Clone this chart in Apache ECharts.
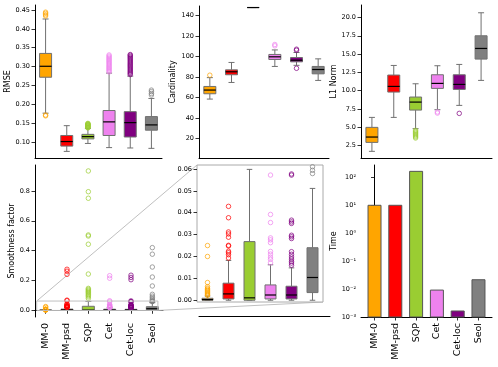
<!DOCTYPE html>
<html>
<head>
<meta charset="utf-8">
<script src="https://cdn.jsdelivr.net/npm/echarts@6/dist/echarts.min.js"></script>
<style>
html, body { margin: 0; padding: 0; background: #fff; }
#ChartDIV { width: 498px; height: 367px; }
</style>
</head>
<body>
<div id="ChartDIV"></div>
<script>
// ---- data ----
var methods = ['MM-0', 'MM-psd', 'SQP', 'Cet', 'Cet-loc', 'Seol'];
var colors = ['#FFA500', '#FF0000', '#9ACD32', '#EE82EE', '#800080', '#808080'];

// box stats: [lower whisker, Q1, median, Q3, upper whisker]
var rmseBox = [
    [0.177, 0.272, 0.301, 0.335, 0.426],
    [0.076, 0.090, 0.102, 0.118, 0.144],
    [0.097, 0.109, 0.115, 0.121, 0.137],
    [0.086, 0.118, 0.154, 0.184, 0.283],
    [0.085, 0.114, 0.152, 0.181, 0.275],
    [0.084, 0.132, 0.146, 0.168, 0.216]
];
var rmseOut = [
    [0.170, 0.172, 0.434, 0.437, 0.441, 0.444],
    [],
    [0.138, 0.139, 0.140, 0.141, 0.142, 0.143, 0.144, 0.145, 0.146, 0.147, 0.148, 0.149, 0.150],
    [0.286, 0.289, 0.292, 0.295, 0.298, 0.301, 0.304, 0.307, 0.310, 0.313, 0.316, 0.319, 0.322, 0.325, 0.328, 0.331],
    [0.279, 0.282, 0.285, 0.288, 0.291, 0.294, 0.297, 0.300, 0.303, 0.306, 0.309, 0.312, 0.315, 0.318, 0.321, 0.324, 0.327, 0.330, 0.332],
    [0.225, 0.229, 0.234, 0.238]
];

var cardBox = [
    [58.6, 63.8, 67.4, 70.9, 79.5],
    [74.8, 82.3, 85.2, 87.1, 94.3],
    [147.8, 147.8, 147.8, 147.8, 147.8],
    [90.4, 97.2, 99.8, 102.1, 106.5],
    [91.5, 94.9, 96.5, 99.1, 104.0],
    [76.8, 83.2, 87.4, 90.4, 97.8]
];
var cardOut = [
    [81.9],
    [],
    [],
    [110.5, 111.8],
    [106.2, 107.2, 88.6],
    []
];

var l1Box = [
    [1.73, 2.95, 3.68, 5.00, 6.36],
    [6.36, 9.82, 10.59, 12.14, 13.45],
    [4.82, 7.36, 8.45, 9.14, 10.95],
    [7.41, 10.32, 11.00, 12.18, 13.41],
    [8.00, 10.18, 10.86, 12.18, 13.59],
    [11.41, 14.32, 15.77, 17.50, 20.64]
];
var l1Out = [
    [],
    [],
    [4.6, 4.45, 4.3, 4.15, 4.0, 3.85, 3.7, 3.55],
    [7.1, 6.95],
    [6.91],
    []
];

var smoothBox = [
    [0, 0, 0.0003, 0.0009, 0.0019],
    [0, 0.0006, 0.0029, 0.0078, 0.0182],
    [0, 0, 0.0011, 0.0268, 0.0598],
    [0, 0.0006, 0.0024, 0.0070, 0.0162],
    [0, 0.0006, 0.0024, 0.0064, 0.0148],
    [0, 0.0035, 0.0104, 0.0240, 0.0511]
];
var smoothOut = [
    [0.025, 0.020, 0.0081, 0.0062, 0.0055, 0.0050, 0.0045, 0.0040, 0.0035, 0.0030, 0.0026, 0.0022],
    [0.275, 0.262, 0.241, 0.068, 0.064, 0.0429, 0.0377, 0.0312, 0.0303, 0.0288, 0.0251, 0.0248, 0.0224, 0.0217, 0.0208, 0.0193],
    [0.934, 0.795, 0.751, 0.505, 0.498, 0.443, 0.243, 0.147, 0.140, 0.133, 0.126, 0.120, 0.113, 0.105, 0.098, 0.090, 0.080],
    [0.232, 0.215, 0.064, 0.0572, 0.0392, 0.0355, 0.0285, 0.0276, 0.0263, 0.0223, 0.0211, 0.0197, 0.0187, 0.0171],
    [0.235, 0.220, 0.205, 0.063, 0.0577, 0.0572, 0.0366, 0.0358, 0.0351, 0.0297, 0.0290, 0.0282, 0.0222, 0.0210, 0.0198, 0.0188, 0.0178, 0.0170, 0.0160],
    [0.420, 0.376, 0.290, 0.223, 0.163, 0.107, 0.095, 0.085, 0.075, 0.068, 0.061, 0.0594, 0.0579]
];

var timeValues = [10.0, 10.0, 164, 0.0092, 0.00164, 0.0216];

var rmseTicks = [0.10, 0.15, 0.20, 0.25, 0.30, 0.35, 0.40, 0.45];
var cardTicks = [20, 40, 60, 80, 100, 120, 140];
var l1Ticks = [2.5, 5.0, 7.5, 10.0, 12.5, 15.0, 17.5, 20.0];
var smoothTicks = [0.0, 0.2, 0.4, 0.6, 0.8];
var insetTicks = [0.00, 0.01, 0.02, 0.03, 0.04, 0.05, 0.06];
var timeTicks = [0.001, 0.01, 0.1, 1, 10, 100];

// ---- layout ----
var FONT = 'DejaVu Sans';
var grids = [
    { left: 35, top: 5, width: 127, height: 153 },    // RMSE
    { left: 199, top: 6, width: 130, height: 152 },   // Cardinality
    { left: 361, top: 5, width: 131, height: 153 },   // L1 Norm
    { left: 35, top: 165, width: 128, height: 152 },  // Smoothness
    { left: 197, top: 165, width: 126, height: 137 }, // inset
    { left: 361, top: 165, width: 131, height: 152 }, // Time
    { left: 199, top: 165, width: 131, height: 151 }  // empty axes (bottom spine only)
];

function boxData(stats) {
    return stats.map(function (s, i) {
        return [i, s[0], s[1], s[2], s[3], s[4], i];
    });
}

function outData(outs) {
    var res = [];
    outs.forEach(function (list, i) {
        list.forEach(function (v) {
            res.push({ value: [i, v], itemStyle: { borderColor: colors[i] } });
        });
    });
    return res;
}

function boxRender(boxW) {
    return function (params, api) {
        var x = api.value(0);
        var lo = api.coord([x, api.value(1)]);
        var q1 = api.coord([x, api.value(2)]);
        var md = api.coord([x, api.value(3)]);
        var q3 = api.coord([x, api.value(4)]);
        var hi = api.coord([x, api.value(5)]);
        var c = colors[api.value(6)];
        var cx = lo[0], hw = boxW / 2, cw = boxW / 4;
        var ls = { stroke: '#707070', lineWidth: 1 };
        return {
            type: 'group',
            children: [
                { type: 'line', shape: { x1: cx, y1: q3[1], x2: cx, y2: hi[1] }, style: ls },
                { type: 'line', shape: { x1: cx, y1: q1[1], x2: cx, y2: lo[1] }, style: ls },
                { type: 'line', shape: { x1: cx - cw, y1: hi[1], x2: cx + cw, y2: hi[1] }, style: ls },
                { type: 'line', shape: { x1: cx - cw, y1: lo[1], x2: cx + cw, y2: lo[1] }, style: ls },
                { type: 'rect', shape: { x: cx - hw, y: q3[1], width: boxW, height: q1[1] - q3[1] },
                  style: { fill: c, stroke: '#707070', lineWidth: 1 } },
                { type: 'line', shape: { x1: cx - hw, y1: md[1], x2: cx + hw, y2: md[1] },
                  style: { stroke: '#000', lineWidth: 1.2 } }
            ]
        };
    };
}

function boxSeries(idx, stats, boxW) {
    return {
        type: 'custom', xAxisIndex: idx, yAxisIndex: idx, clip: true,
        renderItem: boxRender(boxW),
        encode: { x: 0, y: [1, 2, 3, 4, 5] },
        data: boxData(stats), z: 2
    };
}

function outSeries(idx, outs) {
    return {
        type: 'scatter', xAxisIndex: idx, yAxisIndex: idx, clip: true,
        symbol: 'circle', symbolSize: 4.5,
        itemStyle: { color: 'rgba(0,0,0,0)', borderWidth: 0.9 },
        data: outData(outs), z: 3
    };
}

var axisLineStyle = { show: true, lineStyle: { color: '#000', width: 1 } };
var tickStyle = { show: true, length: 3.5, lineStyle: { color: '#000', width: 0.8 } };

function catX(idx, opts) {
    var a = {
        type: 'category', gridIndex: idx, data: methods,
        axisLine: axisLineStyle, axisTick: { show: false }, axisLabel: { show: false },
        splitLine: { show: false }
    };
    return Object.assign(a, opts || {});
}

function valY(idx, min, max, ticks, digits, name, gap, opts) {
    var a = {
        type: 'value', gridIndex: idx, min: min, max: max,
        name: name, nameLocation: 'middle', nameGap: gap, nameRotate: 90,
        nameTextStyle: { fontFamily: FONT, fontSize: 8, color: '#000' },
        axisLine: axisLineStyle,
        axisTick: Object.assign({ customValues: ticks }, tickStyle),
        axisLabel: {
            customValues: ticks, fontFamily: FONT, fontSize: 6.5, color: '#000', margin: 5,
            formatter: function (v) { return v.toFixed(digits); }
        },
        splitLine: { show: false }
    };
    return Object.assign(a, opts || {});
}

var sup = { '-': '\u207B', '0': '\u2070', '1': '\u00B9', '2': '\u00B2', '3': '\u00B3' };
function powLabel(v) {
    var e = String(Math.round(Math.log10(v)));
    return '10' + e.split('').map(function (ch) { return sup[ch]; }).join('');
}

var myChart = echarts.init(document.getElementById('ChartDIV'));

var option = {
    backgroundColor: '#fff',
    animation: false,
    textStyle: { fontFamily: FONT },
    grid: grids.map(function (g, i) {
        var o = Object.assign({ containLabel: false }, g);
        if (i === 4) {
            o.show = true; o.borderColor = '#aaaaaa'; o.borderWidth = 1; o.backgroundColor = '#fff'; o.z = 5;
        }
        return o;
    }),
    xAxis: [
        catX(0),
        catX(1),
        catX(2),
        catX(3, {
            axisTick: { show: true, alignWithLabel: true, length: 3.5, lineStyle: { color: '#000', width: 0.8 } },
            axisLabel: { show: true, rotate: 90, fontFamily: FONT, fontSize: 9.5, color: '#000', margin: 6, interval: 0 }
        }),
        catX(4, { axisLine: { show: false }, z: 6 }),
        {
            type: 'value', gridIndex: 5, min: -0.65, max: 5.65,
            axisLine: axisLineStyle,
            axisTick: Object.assign({ customValues: [0, 1, 2, 3, 4, 5] }, tickStyle),
            axisLabel: {
                customValues: [0, 1, 2, 3, 4, 5], rotate: 90, fontFamily: FONT, fontSize: 9.5,
                color: '#000', margin: 6,
                formatter: function (v) { return methods[Math.round(v)]; }
            },
            splitLine: { show: false }
        },
        catX(6)
    ],
    yAxis: [
        valY(0, 0.0585, 0.463, rmseTicks, 2, 'RMSE', 23),
        valY(1, 1.2, 149.3, cardTicks, 0, 'Cardinality', 22),
        valY(2, 0.82, 21.7, l1Ticks, 1, 'L1 Norm', 21),
        valY(3, -0.045, 0.974, smoothTicks, 1, 'Smoothness factor', 19),
        valY(4, -0.0008, 0.0618, insetTicks, 2, '', 10, { axisLine: { show: false }, z: 6 }),
        {
            type: 'log', logBase: 10, gridIndex: 5, min: 0.001, max: 277,
            name: 'Time', nameLocation: 'middle', nameGap: 23, nameRotate: 90,
            nameTextStyle: { fontFamily: FONT, fontSize: 8, color: '#000' },
            axisLine: axisLineStyle,
            axisTick: Object.assign({ customValues: timeTicks }, tickStyle),
            axisLabel: {
                customValues: timeTicks, fontFamily: FONT, fontSize: 6.5, color: '#000', margin: 5,
                formatter: powLabel
            },
            splitLine: { show: false }
        },
        { type: 'value', gridIndex: 6, show: false, min: 0, max: 1 }
    ],
    series: [
        boxSeries(0, rmseBox, 12), outSeries(0, rmseOut),
        boxSeries(1, cardBox, 12), outSeries(1, cardOut),
        boxSeries(2, l1Box, 12), outSeries(2, l1Out),
        boxSeries(3, smoothBox, 12), outSeries(3, smoothOut),
        Object.assign(boxSeries(4, smoothBox, 11), { z: 7 }), Object.assign(outSeries(4, smoothOut), { z: 8 }),
        {
            type: 'custom', xAxisIndex: 5, yAxisIndex: 5,
            encode: { x: 0, y: 1 },
            data: timeValues.map(function (v, i) { return [i, v]; }),
            renderItem: function (params, api) {
                var i = api.value(0);
                var top = api.coord([i, api.value(1)]);
                var base = api.coord([i, 0.001]);
                var w = 13;
                return {
                    type: 'rect',
                    shape: { x: top[0] - w / 2, y: top[1], width: w, height: base[1] - top[1] },
                    style: { fill: colors[i], stroke: '#555', lineWidth: 1 }
                };
            }
        }
    ]
};

myChart.setOption(option);

// zoom marker rectangle and connector lines for the inset
var p0 = myChart.convertToPixel({ xAxisIndex: 3, yAxisIndex: 3 }, [0, 0.062]);
var p1 = myChart.convertToPixel({ xAxisIndex: 3, yAxisIndex: 3 }, [1, -0.001]);
var band = p1[0] - p0[0];
var rx0 = p0[0] - 0.42 * band, rx1 = p0[0] + 5.26 * band;
var ry0 = p0[1], ry1 = p1[1];
var ins = grids[4];
var gray = { stroke: '#c0c0c0', lineWidth: 1, fill: null };
myChart.setOption({
    graphic: [
        { type: 'rect', shape: { x: rx0, y: ry0, width: rx1 - rx0, height: ry1 - ry0 }, style: gray, z: 4 },
        { type: 'line', shape: { x1: rx0, y1: ry0, x2: ins.left, y2: ins.top }, style: gray, z: 1 },
        { type: 'line', shape: { x1: rx1, y1: ry1, x2: ins.left + ins.width, y2: ins.top + ins.height }, style: gray, z: 1 }
    ]
});

window.addEventListener('resize', function () {
    myChart.resize();
});
</script>
</body>
</html>
